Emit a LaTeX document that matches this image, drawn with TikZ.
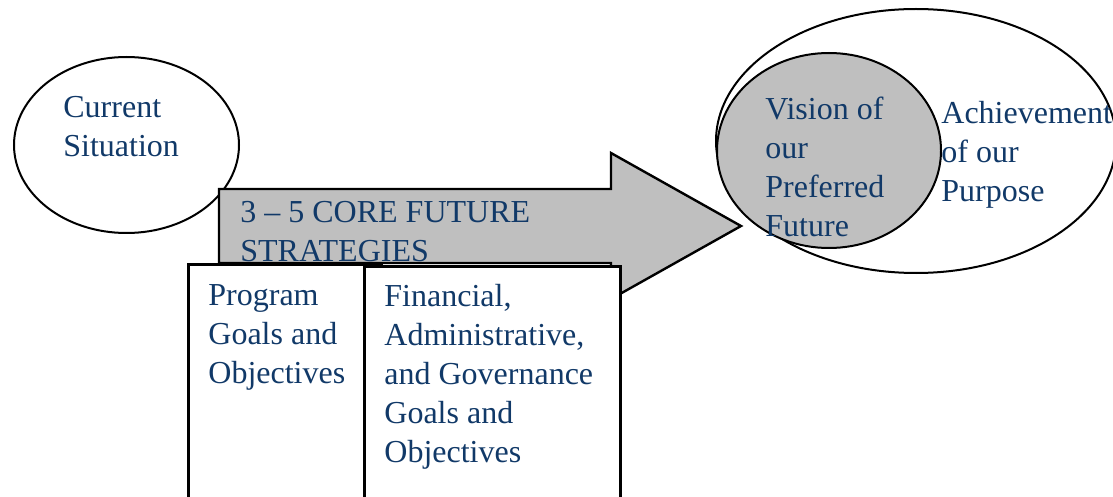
\documentclass[tikz,border=0pt]{standalone}
\usepackage{fontspec}
\setmainfont{Liberation Serif}
\usetikzlibrary{shapes.geometric}
\definecolor{textblue}{RGB}{17,57,104}

\begin{document}
\begin{tikzpicture}[x=0.5pt, y=-0.5pt,
    blob/.style={ellipse, draw=black, line width=1pt, inner sep=0pt},
    goalbox/.style={rectangle, draw=black, fill=white, line width=1.5pt, inner sep=0pt, anchor=north west},
    words/.style={anchor=base west, inner sep=0pt, align=left, text=textblue,
      font=\fontsize{16}{19.5}\selectfont}]
    \clip (0,0) rectangle (1113,497);

    % base west sits on the last line of each text
    \node[blob, minimum width=112.5pt, minimum height=88pt] (current) at (126.5,145) {};
    \path (current.center) + (-63.5,12) node[words] (currenttext) {Current\\Situation};

    \coordinate (tail) at (219,189);
    \coordinate (tip) at (741,226);
    \filldraw[fill=gray!50, draw=black, line width=1.2pt]
      (tail) -- (611,189) -- (611,153) -- (tip) -- (611,299) -- (611,263) -- (219,263) -- cycle;
    \path (tail) + (21,73) node[words] (strategies) {3 -- 5 CORE FUTURE\\STRATEGIES};

    \node[goalbox, minimum width=96.5pt, minimum height=130pt] (program) at (187,263) {};
    \path (program.north west) + (21,120) node[words] (programtext) {Program\\Goals and\\Objectives};
    \node[goalbox, minimum width=128pt, minimum height=130pt] (financial) at (363,265) {};
    \path (financial.north west) + (21,197) node[words] (financialtext) {Financial,\\Administrative,\\and Governance\\Goals and\\Objectives};

    \node[blob, minimum width=200pt, minimum height=132pt] (purpose) at (916,141) {};
    \node[blob, fill=gray!50, minimum width=112pt, minimum height=97.5pt] (vision) at (829,150.5) {};
    \path (vision.center) + (-64,85.5) node[words] (visiontext) {Vision of\\our\\Preferred\\Future};
    \path (purpose.center) + (25,61) node[words] (purposetext) {Achievement\\of our\\Purpose};

\end{tikzpicture}
\end{document}
